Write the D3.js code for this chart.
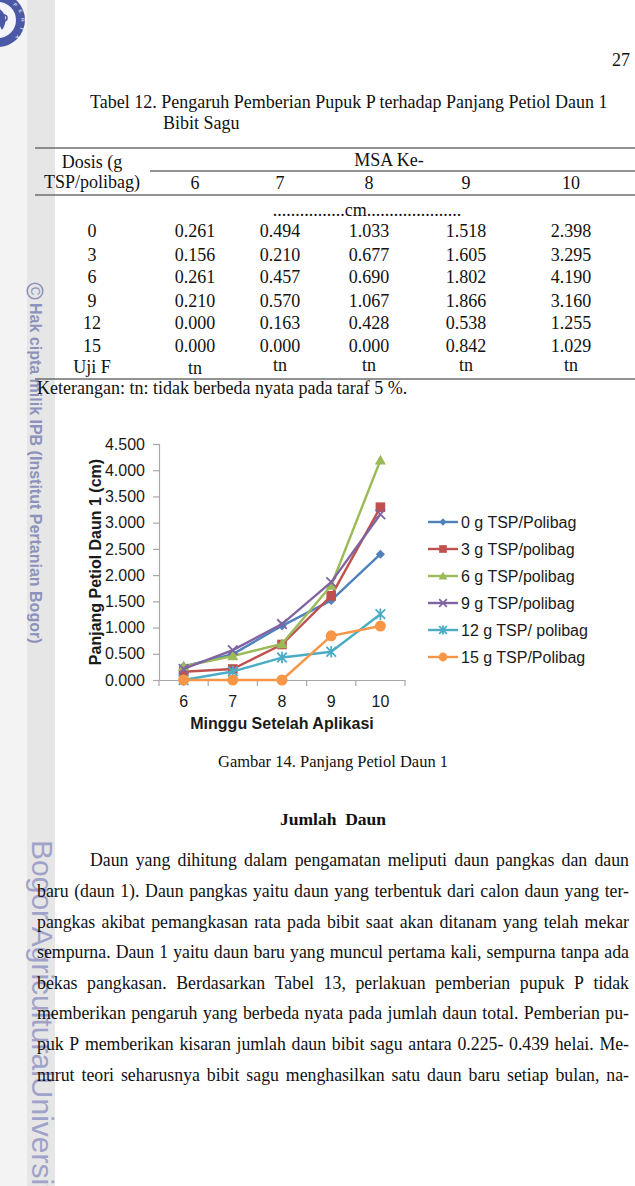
<!DOCTYPE html>
<html><head><meta charset="utf-8">
<script src="https://cdn.jsdelivr.net/npm/d3@7"></script>
<style>html,body{margin:0;padding:0;background:#fff;}svg{display:block;}</style>
</head><body>
<svg id="page" width="635" height="1186"></svg>
<script>
// ---------- data ----------
const weeks = [6, 7, 8, 9, 10];
const doseLabels = ["0", "3", "6", "9", "12", "15"];
const seriesNames = ["0 g TSP/Polibag", "3 g TSP/polibag", "6 g TSP/polibag", "9 g TSP/polibag", "12 g TSP/ polibag", "15 g TSP/Polibag"];
const dose0 = [0.261, 0.494, 1.033, 1.518, 2.398];
const dose3 = [0.156, 0.210, 0.677, 1.605, 3.295];
const dose6 = [0.261, 0.457, 0.690, 1.802, 4.190];
const dose9 = [0.210, 0.570, 1.067, 1.866, 3.160];
const dose12 = [0.000, 0.163, 0.428, 0.538, 1.255];
const dose15 = [0.000, 0.000, 0.000, 0.842, 1.029];
const ujiF = ["tn", "tn", "tn", "tn", "tn"];
const yTicks = [0, 0.5, 1, 1.5, 2, 2.5, 3, 3.5, 4, 4.5];
const colors = ["#4F81BD", "#C0504D", "#9BBB59", "#8064A2", "#4BACC6", "#F79646"];
const markerTypes = ["diamond", "square", "triangle", "x", "star", "circle"];

const allSeries = [dose0, dose3, dose6, dose9, dose12, dose15];

const paragraph = [
  "Daun yang dihitung dalam pengamatan meliputi daun pangkas dan daun",
  "baru (daun 1). Daun pangkas yaitu daun yang terbentuk dari calon daun yang ter-",
  "pangkas akibat pemangkasan rata pada bibit saat akan ditanam yang telah mekar",
  "sempurna. Daun 1 yaitu daun baru yang muncul pertama kali, sempurna tanpa ada",
  "bekas pangkasan. Berdasarkan Tabel 13, perlakuan pemberian pupuk P tidak",
  "memberikan pengaruh yang berbeda nyata pada jumlah daun total. Pemberian pu-",
  "puk P memberikan kisaran jumlah daun bibit sagu antara 0.225- 0.439 helai. Me-",
  "nurut teori seharusnya bibit sagu menghasilkan satu daun baru setiap bulan, na-"
];

const svg = d3.select("#page");
const SERIF = "'Liberation Serif','Times New Roman',serif";
const SANS = "'Liberation Sans',Arial,sans-serif";
const FS = 18;

// ---------- watermark strip ----------
svg.append("rect").attr("x", 0).attr("y", 0).attr("width", 27).attr("height", 1186).attr("fill", "#f3f3f3");
svg.append("rect").attr("x", 27).attr("y", 0).attr("width", 28).attr("height", 1186).attr("fill", "#e6e6e6");
// logo
svg.append("circle").attr("cx", -2).attr("cy", 20).attr("r", 27).attr("fill", "#4a58a6");
svg.append("circle").attr("cx", -2).attr("cy", 20).attr("r", 18).attr("fill", "#f4f4fb");
svg.append("path").attr("d", "M-2,8 C6,12 8,22 2,30 C-2,24 -2,16 -2,8Z").attr("fill", "#4a58a6");
svg.append("circle").attr("cx", 4).attr("cy", 18).attr("r", 3).attr("fill", "none").attr("stroke", "#4a58a6").attr("stroke-width", 1.5);
[["P", 14, 6, 40], ["E", 19, 12, 60], ["R", 21, 20, 85], ["T", 20, 28, 110], ["A", 16, 36, 135]].forEach(d => {
  svg.append("text").attr("transform", `translate(${d[1]},${d[2]}) rotate(${d[3]})`)
    .attr("font-family", SANS).attr("font-size", 5).attr("fill", "#fff").attr("text-anchor", "middle").text(d[0]);
});
// rotated watermark texts
const wm1 = svg.append("g").attr("transform", "translate(35,283) rotate(90)");
wm1.append("circle").attr("cx", 8).attr("cy", 0).attr("r", 7.8).attr("fill", "none").attr("stroke", "#8d92bd").attr("stroke-width", 1.6);
wm1.append("text").attr("x", 8).attr("y", 4.5).attr("text-anchor", "middle").attr("font-family", SANS).attr("font-size", 12).attr("fill", "#8d92bd").text("C");
wm1.append("text").attr("x", 20).attr("y", 5.5).attr("font-family", SANS).attr("font-weight", "bold")
  .attr("font-size", 16).attr("fill", "#8d92bd").text("Hak cipta milik IPB (Institut Pertanian Bogor)");
svg.append("g").attr("transform", "translate(32,840) rotate(90)")
  .append("text").attr("x", 0).attr("y", 0).attr("font-family", SANS)
  .attr("font-size", 30).attr("fill", "#9fa3c9")
  .text("Bogor AgriculturalUniversity");

// ---------- page number & table ----------
svg.append("text").attr("x", 630).attr("y", 66).attr("text-anchor", "end")
  .attr("font-family", SERIF).attr("font-size", FS).attr("fill", "#111").text("27");
svg.append("text").attr("x", 90).attr("y", 108).attr("font-family", SERIF).attr("font-size", FS).attr("fill", "#111")
  .text("Tabel 12. Pengaruh Pemberian Pupuk P terhadap Panjang Petiol Daun 1");
svg.append("text").attr("x", 163).attr("y", 129).attr("font-family", SERIF).attr("font-size", FS).attr("fill", "#111")
  .text("Bibit Sagu");

const rule = (x1, x2, yy) => svg.append("line").attr("x1", x1).attr("x2", x2).attr("y1", yy).attr("y2", yy)
  .attr("stroke", "#6e6e6e").attr("stroke-width", 1.4);
rule(35, 635, 148);
rule(150, 635, 171);
rule(35, 635, 195);
rule(35, 635, 379);

const colX = d3.scaleOrdinal().domain(weeks).range([195, 280, 369, 466, 571]);
const tt = (x, yy, s, anchor = "middle") => svg.append("text").attr("x", x).attr("y", yy).attr("text-anchor", anchor)
  .attr("font-family", SERIF).attr("font-size", FS).attr("fill", "#111").text(s);
tt(92, 168, "Dosis (g");
tt(92, 188, "TSP/polibag)");
tt(389, 166, "MSA Ke-");
weeks.forEach(w => tt(colX(w), 189, String(w)));
tt(367, 216, "................cm.....................");
const rowY = [237, 261, 283, 307, 329, 352];
allSeries.forEach((vals, i) => {
  tt(92, rowY[i], doseLabels[i]);
  vals.forEach((v, j) => tt(colX(weeks[j]), rowY[i], v.toFixed(3)));
});
tt(92, 373, "Uji F");
ujiF.forEach((s, j) => tt(colX(weeks[j]), j === 0 ? 374 : 371, s));
tt(37, 394, "Keterangan: tn: tidak berbeda nyata pada taraf 5 %.", "start");

// ---------- chart ----------
const x = d3.scaleBand().domain(weeks).range([159, 405]);
const xc = w => x(w) + x.bandwidth() / 2;
const y = d3.scaleLinear().domain([0, 4.5]).range([680, 444]);
const axisColor = "#a8a8a8";

const gy = svg.append("g").attr("transform", "translate(159,0)")
  .call(d3.axisLeft(y).tickValues(yTicks).tickFormat(d3.format(".3f")).tickSize(6).tickPadding(8));
gy.select(".domain").attr("stroke", axisColor).attr("stroke-width", 1.2);
gy.selectAll(".tick line").attr("stroke", axisColor).attr("stroke-width", 1.2);
gy.selectAll(".tick text").attr("font-family", SANS).attr("font-size", 16).attr("fill", "#1a1a1a");

const gx = svg.append("g").attr("transform", "translate(0,680)")
  .call(d3.axisBottom(x).tickSize(0).tickPadding(16).tickSizeOuter(0));
gx.select(".domain").attr("stroke", axisColor).attr("stroke-width", 1.2);
gx.selectAll(".tick text").attr("font-family", SANS).attr("font-size", 16).attr("fill", "#1a1a1a");
// category boundary ticks
const bounds = weeks.map(w => x(w)).concat([x.range()[1]]);
svg.append("g").selectAll("line").data(bounds).join("line")
  .attr("x1", d => d).attr("x2", d => d).attr("y1", 680).attr("y2", 686)
  .attr("stroke", axisColor).attr("stroke-width", 1.2);

svg.append("text").attr("transform", "translate(101,562) rotate(-90)").attr("text-anchor", "middle")
  .attr("font-family", SANS).attr("font-weight", "bold").attr("font-size", 16).attr("fill", "#1a1a1a")
  .text("Panjang Petiol Daun 1 (cm)");
svg.append("text").attr("x", 282).attr("y", 729).attr("text-anchor", "middle")
  .attr("font-family", SANS).attr("font-weight", "bold").attr("font-size", 16).attr("fill", "#1a1a1a")
  .text("Minggu Setelah Aplikasi");

function markerPath(type, r) {
  switch (type) {
    case "diamond": return `M0,${-r}L${r},0L0,${r}L${-r},0Z`;
    case "square": return `M${-r},${-r}h${2 * r}v${2 * r}h${-2 * r}Z`;
    case "triangle": return `M0,${-r * 1.15}L${r * 1.15},${r * 0.9}L${-r * 1.15},${r * 0.9}Z`;
    case "x": return `M${-r},${-r}L${r},${r}M${-r},${r}L${r},${-r}`;
    case "star": return `M${-r},${-r}L${r},${r}M${-r},${r}L${r},${-r}M0,${-r * 1.2}L0,${r * 1.2}`;
  }
}
function drawMarker(g, type, color, cx, cy, scale) {
  if (type === "circle") {
    g.append("circle").attr("cx", cx).attr("cy", cy).attr("r", 5.5 * scale).attr("fill", color);
  } else if (type === "x" || type === "star") {
    g.append("path").attr("transform", `translate(${cx},${cy})`).attr("d", markerPath(type, 4.8 * scale))
      .attr("fill", "none").attr("stroke", color).attr("stroke-width", 1.8);
  } else {
    const s = type === "diamond" ? 4.6 : 4.8;
    g.append("path").attr("transform", `translate(${cx},${cy})`).attr("d", markerPath(type, s * scale)).attr("fill", color);
  }
}

const line = d3.line().x(d => xc(d.w)).y(d => y(d.v));
allSeries.forEach((vals, i) => {
  const pts = vals.map((v, j) => ({ w: weeks[j], v }));
  const g = svg.append("g");
  g.append("path").attr("d", line(pts)).attr("fill", "none").attr("stroke", colors[i])
    .attr("stroke-width", 2.4).attr("stroke-linejoin", "round");
  pts.forEach(p => drawMarker(g, markerTypes[i], colors[i], xc(p.w), y(p.v), 1));
});

// legend
const legY = d3.scaleLinear().domain([0, 5]).range([522, 657]);
seriesNames.forEach((name, i) => {
  const g = svg.append("g");
  const yy = legY(i);
  g.append("line").attr("x1", 428).attr("x2", 458).attr("y1", yy).attr("y2", yy)
    .attr("stroke", colors[i]).attr("stroke-width", 2.4);
  drawMarker(g, markerTypes[i], colors[i], 443, yy, 0.8);
  g.append("text").attr("x", 461).attr("y", yy + 5.5).attr("font-family", SANS).attr("font-size", 16)
    .attr("fill", "#1a1a1a").text(name);
});

// ---------- caption and body text ----------
svg.append("text").attr("x", 333).attr("y", 767).attr("text-anchor", "middle")
  .attr("font-family", SERIF).attr("font-size", 16.5).attr("fill", "#111").text("Gambar 14. Panjang Petiol Daun 1");
svg.append("text").attr("x", 333).attr("y", 825).attr("text-anchor", "middle").attr("xml:space", "preserve")
  .attr("font-family", SERIF).attr("font-weight", "bold").attr("font-size", 17.5).attr("fill", "#111").text("Jumlah  Daun");

const PFS = 17.8;
const lineBase = [866, 897, 928, 958, 989, 1019, 1050, 1081];
const measure = svg.append("text").attr("font-family", SERIF).attr("font-size", PFS).attr("x", -1000).attr("y", -1000);
function wordWidth(w) { measure.text(w); return measure.node().getComputedTextLength(); }
paragraph.forEach((ln, i) => {
  const words = ln.split(" ");
  const left = i === 0 ? 90 : 37, right = 629;
  const widths = words.map(wordWidth);
  const total = d3.sum(widths);
  const gap = Math.max(2.5, (right - left - total) / (words.length - 1));
  const t = svg.append("text").attr("y", lineBase[i]).attr("font-family", SERIF).attr("font-size", PFS).attr("fill", "#111");
  let cx = left;
  words.forEach((w, k) => {
    t.append("tspan").attr("x", cx).text(w);
    cx += widths[k] + gap;
  });
});
measure.remove();
</script>
</body></html>
